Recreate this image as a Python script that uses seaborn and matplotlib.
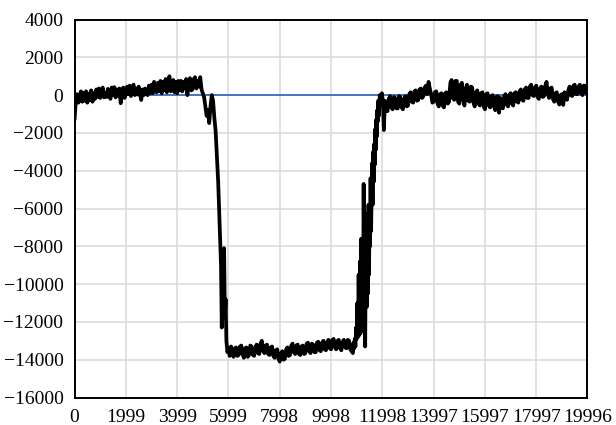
import numpy as np
import pandas as pd
import matplotlib
matplotlib.use("Agg")
import matplotlib.pyplot as plt
import seaborn as sns

# Sample index / amplitude pairs, in pieces along the record
idx_pre = [0, 50, 100, 150, 200, 250, 300, 350, 400, 450, 500, 550, 600, 650, 700, 750,
           800, 850, 900, 950, 1000, 1050, 1100, 1150, 1200, 1250, 1300, 1350, 1400,
           1450, 1500, 1550, 1600, 1650, 1700, 1750, 1800, 1850, 1900, 1950, 2000,
           2050, 2100, 2150, 2200, 2250, 2300, 2350, 2400, 2450, 2500, 2550, 2600,
           2650, 2700, 2750, 2800, 2850, 2900, 2950, 3000, 3050, 3100, 3150, 3200,
           3250, 3300, 3350, 3400, 3450, 3500, 3550, 3600, 3650, 3700, 3750, 3800,
           3850, 3900, 3950, 4000, 4050, 4100, 4150, 4200, 4250, 4300, 4350, 4400,
           4450, 4500, 4550, 4600, 4650, 4700, 4750, 4800, 4850, 4900, 4950, 5000]
val_pre = [-1300, -300, 50, -400, -150, 200, -350, 120, -300, 200, -400, 80, -250, 250, -350, 100,
           -200, 300, -100, 350, -150, 250, 400, -120, 100, -100, 330, 0, -200,
           400, 0, 420, -120, 300, -50, 350, -430, 100, 400, -150, 50,
           450, 50, 500, -50, 400, 550, 0, 350, 30, 450, 50, -260, 300,
           0, 350, 80, 0, 500, 100, 550, 100, 700, 200, 150,
           650, 200, 750, 100, 700, 250, 850, 150, 700, 1000, 200, 250,
           800, 150, 700, 100, 750, 250, 750, 200, 700, 350, 850, 0,
           700, 900, 250, 300, 850, 950, 350, 750, 450, 950, 300, 100]

idx_drop = [5050, 5100, 5150, 5200, 5250, 5300, 5350, 5400, 5450, 5500, 5550, 5600,
            5640, 5680, 5710, 5740, 5770, 5800, 5830, 5860, 5890, 5920, 5960]
val_drop = [-100, -600, -1100, -800, -1480, -600, 0, -300, -1200, -1900, -3200, -4600,
            -6200, -7800, -9000, -12300, -8200, -10500, -8100, -11800, -10800, -13000, -13600]

idx_floor = [6000, 6050, 6100, 6150, 6200, 6250, 6300, 6350, 6400, 6450, 6500, 6550,
             6600, 6650, 6700, 6750, 6800, 6850, 6900, 6950, 7000, 7050, 7100, 7150,
             7200, 7250, 7300, 7350, 7400, 7450, 7500, 7550, 7600, 7650, 7700, 7750,
             7800, 7850, 7900, 7950, 8000, 8050, 8100, 8150, 8200, 8250, 8300, 8350,
             8400, 8450, 8500, 8550, 8600, 8650, 8700, 8750, 8800, 8850, 8900, 8950,
             9000, 9050, 9100, 9150, 9200, 9250, 9300, 9350, 9400, 9450, 9500, 9550,
             9600, 9650, 9700, 9750, 9800, 9850, 9900, 9950, 10000, 10050, 10100,
             10150, 10200, 10250, 10300, 10350, 10400, 10450, 10500, 10550, 10600,
             10650, 10700, 10750, 10800]
val_floor = [-13400, -13800, -13300, -13650, -13850, -13400, -13350, -13800, -13750, -13300, -13250, -13700,
             -13900, -13400, -13350, -13850, -13750, -13250, -13300, -13750, -13800, -13350, -13200, -13650,
             -13700, -13150, -13000, -13550, -13650, -13250, -13200, -13700, -13750, -13350, -13300, -13800,
             -13900, -13500, -13450, -13950, -14100, -13650, -13550, -14000, -13950, -13450, -13350, -13800,
             -13750, -13250, -13150, -13600, -13700, -13250, -13200, -13700, -13750, -13300, -13250, -13700,
             -13650, -13150, -13100, -13550, -13650, -13150, -13200, -13600, -13600, -13100, -13050, -13500,
             -13550, -13100, -13000, -13450, -13500, -13050, -12950, -13400, -13450, -12950, -12900,
             -13350, -13450, -13000, -12950, -13400, -13500, -13050, -12950, -13350, -13400,
             -12950, -13000, -13450, -13550]

idx_rise = [10850, 10875, 10900, 10925, 10950, 10975, 11000, 11025, 11050, 11075, 11100,
            11125, 11150, 11175, 11200, 11225, 11250, 11270, 11300, 11330, 11350, 11370,
            11395, 11420, 11440, 11460, 11480, 11500, 11520, 11540, 11560, 11580, 11600,
            11620, 11640, 11660, 11680, 11700, 11720, 11740, 11760, 11780, 11800, 11820,
            11840, 11860, 11900, 11940, 11980, 12020, 12060]
val_rise = [-13650, -13100, -13400, -12900, -13300, -12300, -12900, -11000, -12800, -9500, -12700,
            -8800, -12600, -7600, -12400, -8500, -11500, -4700, -11000, -13300, -9000, -7000,
            -11200, -6300, -10500, -5800, -9500, -6000, -8000, -4400, -7200, -5500, -3600,
            -5800, -3000, -4600, -2600, -3700, -1800, -2900, -1300, -2200, -800, -1400,
            -300, -1100, 0, -200, 100, -300, -1850]

idx_post = [12100, 12150, 12200, 12250, 12300, 12350, 12400, 12450, 12500, 12550, 12600,
            12650, 12700, 12750, 12800, 12850, 12900, 12950, 13000, 13050, 13100, 13150,
            13200, 13250, 13300, 13350, 13400, 13450, 13500, 13550, 13600, 13650, 13700,
            13750, 13800, 13850, 13900, 13950, 14000, 14050, 14100, 14150, 14200, 14250,
            14300, 14350, 14400, 14450, 14500, 14550, 14600, 14650, 14700, 14750, 14800,
            14850, 14900, 14950, 15000, 15050, 15100, 15150, 15200, 15250, 15300, 15350,
            15400, 15450, 15500, 15550, 15600, 15650, 15700, 15750, 15800, 15850, 15900,
            15950, 16000, 16050, 16100, 16150, 16200, 16250, 16300, 16350, 16400, 16450,
            16500, 16550, 16600, 16650, 16700, 16750, 16800, 16850, 16900, 16950, 17000,
            17050, 17100, 17150, 17200, 17250, 17300, 17350, 17400, 17450, 17500, 17550,
            17600, 17650, 17700, 17750, 17800, 17850, 17900, 17950, 18000, 18050, 18100,
            18150, 18200, 18250, 18300, 18350, 18400, 18450, 18500, 18550, 18600, 18650,
            18700, 18750, 18800, 18850, 18900, 18950, 19000, 19050, 19100, 19150, 19200,
            19250, 19300, 19350, 19400, 19450, 19500, 19550, 19600, 19650, 19700, 19750,
            19800, 19850, 19900, 19950, 19996]
val_post = [-300, -700, -850, -200, -50, -650, -750, -100, -150, -700, -700,
            -50, -100, -650, -750, -200, -50, -600, -550, 50, 150, -350,
            -400, 200, 250, -300, -250, 300, 350, -150, -50, 400, 500, 50,
            700, 350, 50, -400, -350, 150, 200, -450, -600, 50, 100,
            -550, -650, 100, 150, -450, -350, 650, 800, -150, -250,
            750, 750, -350, -450, 550, 650, -250, -550, 350, 550, -300,
            -350, 450, 400, -400, -600, 150, 250, -450, -550, 100, 150,
            -600, -750, 50, 100, -550, -650, -50, 0, -600, -800, -100,
            -50, -930, -150, -650, -700, -50, 50, -500, -600, 0, 100,
            -450, -550, 100, 150, -350, -400, 200, 300, -250, -300, 300,
            400, -150, -150, 450, 550, 0, -50, 400, 500, -100, -200,
            350, 450, -100, -50, 500, 700, 50, -150, 350, 400, -200,
            -350, 100, 150, -350, -500, 0, 50, -520, 150, -150, -250,
            250, 450, 0, -50, 500, 550, 50, 50, 450, 550, 100,
            0, 500, 500, 100, 250]

ref_idx = [0, 19996]
ref_val = [0, 0]

x_ticks = [0, 1999, 3999, 5999, 7998, 9998, 11998, 13997, 15997, 17997, 19996]
x_tick_labels = ["0", "1999", "3999", "5999", "7998", "9998", "11998", "13997",
                 "15997", "17997", "19996"]
y_ticks = list(range(-16000, 4001, 2000))

signal = pd.DataFrame({
    "sample": idx_pre + idx_drop + idx_floor + idx_rise + idx_post,
    "value": val_pre + val_drop + val_floor + val_rise + val_post,
})
reference = pd.DataFrame({"sample": ref_idx, "value": ref_val})

sns.set_theme(style="whitegrid")
plt.rcParams["font.family"] = ["Liberation Serif", "DejaVu Serif"]
plt.rcParams["axes.unicode_minus"] = True

fig = plt.figure(figsize=(6.16, 4.25), dpi=100)
ax = fig.add_axes([0.121, 0.0647, 0.8327, 0.8894])

sns.lineplot(data=reference, x="sample", y="value", ax=ax, color="#4472C4",
             linewidth=1.4, estimator=None, sort=False, zorder=2)
sns.lineplot(data=signal, x="sample", y="value", ax=ax, color="black",
             linewidth=2.7, estimator=None, sort=False, zorder=3)

ax.set_xlim(0, 19996)
ax.set_ylim(-16000, 4000)
ax.set_xticks(x_ticks)
ax.set_xticklabels(x_tick_labels)
ax.set_yticks(y_ticks)
ax.set_xlabel("")
ax.set_ylabel("")

ax.grid(True, color="#d9d9d9", linewidth=1.1)
ax.set_axisbelow(True)
for side in ["left", "right", "top", "bottom"]:
    ax.spines[side].set_visible(True)
    ax.spines[side].set_color("black")
    ax.spines[side].set_linewidth(1.4)

ax.tick_params(axis="both", which="major", labelsize=14, colors="black",
               length=4, width=1, direction="out", pad=4)
ax.tick_params(axis="both", color="#808080")

fig.savefig("out.png", dpi=100, facecolor="white")
